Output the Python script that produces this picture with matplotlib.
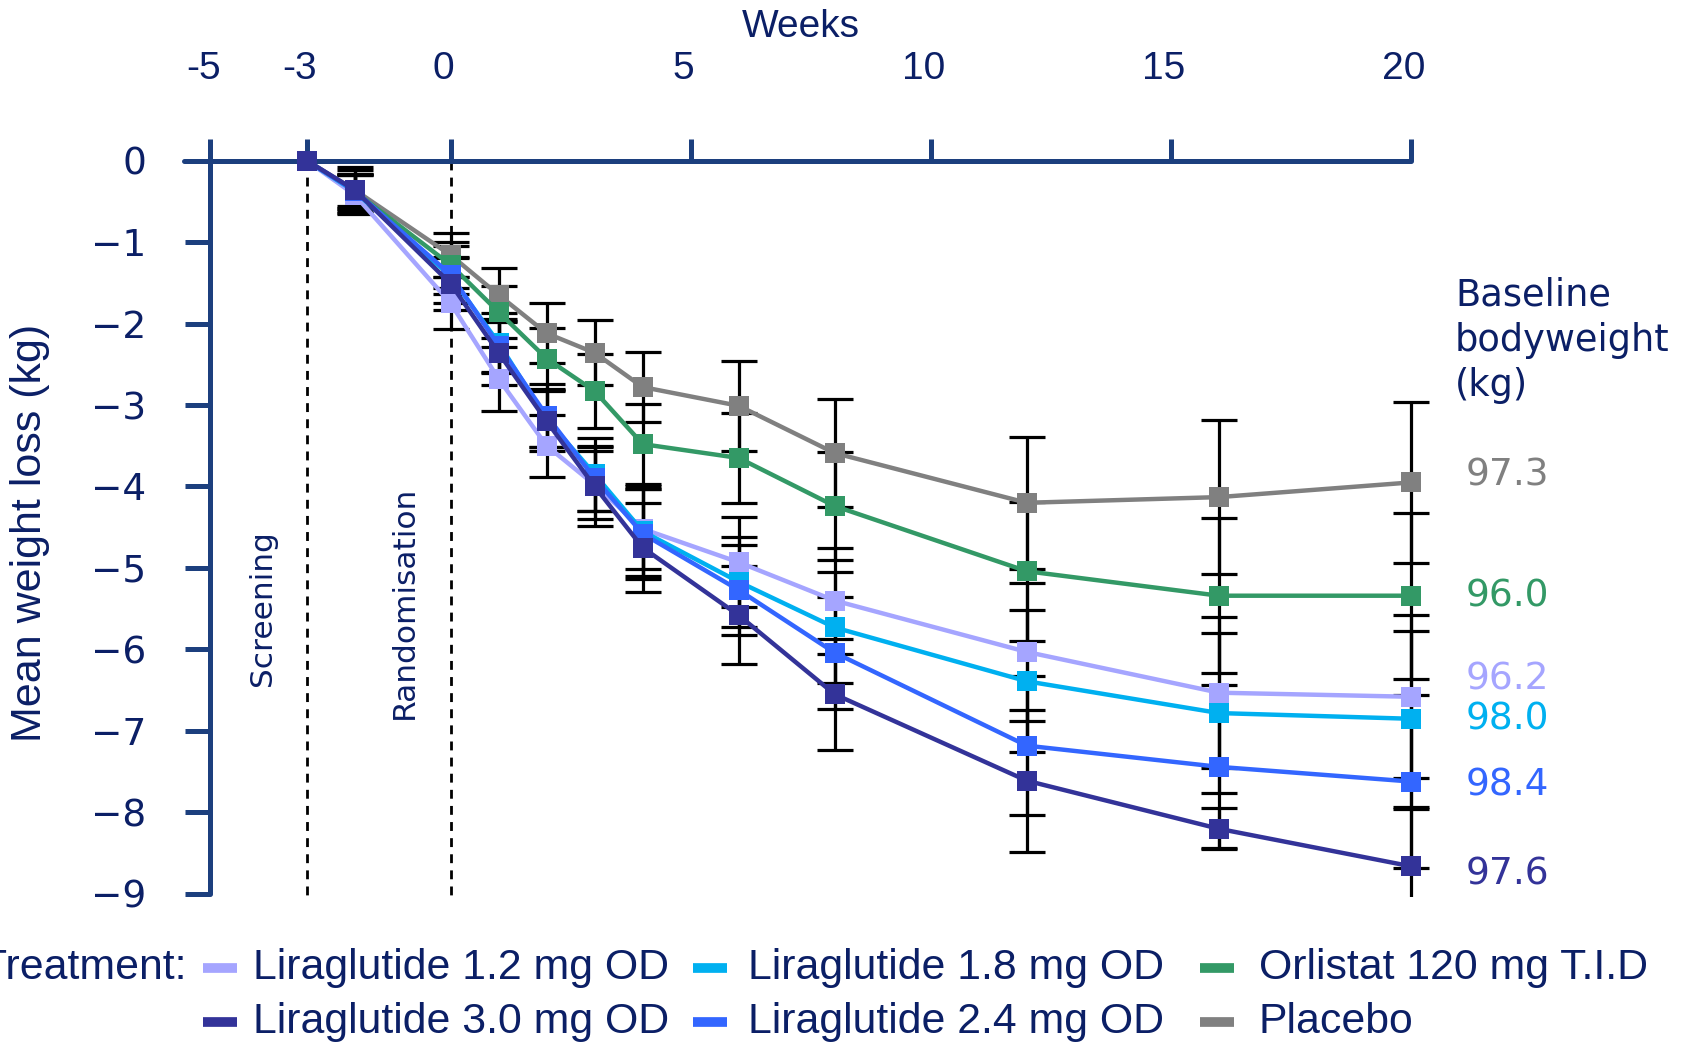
import matplotlib
matplotlib.use("Agg")
import matplotlib.pyplot as plt
from matplotlib.lines import Line2D
import matplotlib.transforms as mtransforms

# ---------------- data ----------------
weeks = [-3, -2, 0, 1, 2, 3, 4, 6, 8, 12, 16, 20]

series_names = ["Placebo", "Orlistat 120 mg T.I.D", "Liraglutide 1.2 mg OD",
                "Liraglutide 1.8 mg OD", "Liraglutide 2.4 mg OD", "Liraglutide 3.0 mg OD"]

placebo  = [0, -0.36, -1.16, -1.65, -2.12, -2.36, -2.78, -3.01, -3.59, -4.20, -4.13, -3.95]
orlistat = [0, -0.38, -1.28, -1.86, -2.43, -2.83, -3.48, -3.65, -4.24, -5.04, -5.34, -5.34]
lira12   = [0, -0.42, -1.75, -2.68, -3.50, -3.98, -4.52, -4.93, -5.40, -6.03, -6.53, -6.58]
lira18   = [0, -0.38, -1.42, -2.24, -3.17, -3.85, -4.55, -5.17, -5.73, -6.39, -6.78, -6.85]
lira24   = [0, -0.37, -1.40, -2.27, -3.13, -3.90, -4.58, -5.27, -6.04, -7.18, -7.44, -7.62]
lira30   = [0, -0.36, -1.51, -2.36, -3.20, -4.00, -4.75, -5.58, -6.55, -7.61, -8.20, -8.66]

placebo_err  = [0, 0.28, 0.27, 0.33, 0.37, 0.40, 0.43, 0.55, 0.66, 0.81, 0.94, 0.99]
orlistat_err = [0, 0.22, 0.28, 0.32, 0.37, 0.45, 0.49, 0.55, 0.66, 0.85, 0.95, 1.02]
lira12_err   = [0, 0.24, 0.32, 0.39, 0.38, 0.42, 0.49, 0.55, 0.65, 0.85, 0.93, 1.00]
lira18_err   = [0, 0.20, 0.22, 0.37, 0.35, 0.45, 0.55, 0.55, 0.68, 0.87, 0.98, 1.08]
lira24_err   = [0, 0.25, 0.35, 0.33, 0.39, 0.40, 0.55, 0.55, 0.69, 0.85, 1.00, 1.06]
lira30_err   = [0, 0.20, 0.32, 0.39, 0.37, 0.49, 0.55, 0.60, 0.68, 0.87, 0.25, 0.70]

baseline_weights = ["97.3", "96.0", "96.2", "98.0", "98.4", "97.6"]

x_ticks = [-5, -3, 0, 5, 10, 15, 20]
x_tick_labels = ["-5", "-3", "0", "5", "10", "15", "20"]
y_ticks = [0, -1, -2, -3, -4, -5, -6, -7, -8, -9]
y_tick_labels = ["0", "\u22121", "\u22122", "\u22123", "\u22124", "\u22125",
                 "\u22126", "\u22127", "\u22128", "\u22129"]

# ---------------- styles ----------------
colors = ["#808080", "#339966", "#A5A5FF", "#00B0F0", "#3366FF", "#333399"]
values = [placebo, orlistat, lira12, lira18, lira24, lira30]
errors = [placebo_err, orlistat_err, lira12_err, lira18_err, lira24_err, lira30_err]
label_y = [-3.87, -5.35, -6.37, -6.86, -7.67, -8.76]   # text placement

axis_col = "#1C3F7E"
text_col = "#0B1F66"
cond = ["Liberation Sans", "DejaVu Sans"]

W, H = 1693, 1042
fig = plt.figure(figsize=(W / 100, H / 100), dpi=100)

def fy(py):
    return 1 - py / H

# axes geometry: x=-5 at px 210.5, x=20 at px 1411 ; y=0 at px 160.5, y=-9 at px 894
pxw = (1411 - 210.5) / 25.0
pxk = (894 - 160.5) / 9.0
ax_l, ax_r = 150, 1450
ax_t, ax_b = 120, 897
ax = fig.add_axes([ax_l / W, 1 - ax_b / H, (ax_r - ax_l) / W, (ax_b - ax_t) / H])
ax.set_xlim(-5 - (210.5 - ax_l) / pxw, 20 + (ax_r - 1411) / pxw)
ax.set_ylim(0 - (ax_b - 160.5) / pxk, 0 + (160.5 - ax_t) / pxk)
ax.patch.set_alpha(0)

# dashed reference lines
for xv in (-3, 0):
    ax.plot([xv, xv], [0, -9.05], ls=(0, (3.2, 2.6)), color="black", lw=2.0, zorder=1)

# error bars
for v, e in zip(values, errors):
    ax.errorbar(weeks[1:], v[1:], yerr=e[1:], fmt="none", ecolor="black",
                elinewidth=2.3, capsize=13, capthick=2.3, zorder=2)

# lines
for name, v, c in zip(series_names, values, colors):
    ax.plot(weeks, v, color=c, lw=3.2, marker="s", markersize=14,
            markeredgewidth=0, label=name, zorder=3)

# spines
for s in ("right", "bottom"):
    ax.spines[s].set_visible(False)
ax.spines["left"].set_position(("data", -5))
ax.spines["left"].set_bounds(-9, 0)
ax.spines["top"].set_position(("data", 0))
ax.spines["top"].set_bounds(-5.55, 20)
for s in ("left", "top"):
    ax.spines[s].set_color(axis_col)
    ax.spines[s].set_linewidth(3.6)
    ax.spines[s].set_capstyle("round")

ax.xaxis.set_ticks_position("top")
ax.set_xticks(x_ticks)
ax.set_xticklabels(x_tick_labels, fontfamily=cond)
ax.tick_params(axis="x", direction="out", length=16, width=3.6, color=axis_col,
               pad=37, labelsize=28, labelcolor=text_col)
off = mtransforms.ScaledTranslation(-7 / 100, 0, fig.dpi_scale_trans)
for lab in ax.get_xticklabels():
    lab.set_transform(lab.get_transform() + off)

ax.set_yticks(y_ticks)
ax.set_yticklabels(y_tick_labels, fontfamily="DejaVu Sans")
ax.tick_params(axis="y", direction="out", length=18, width=3.6, color=axis_col,
               pad=28, labelsize=27, labelcolor=text_col)

# titles / labels
fig.text(801 / W, fy(27), "Weeks", ha="center", va="center", fontsize=28,
         family=cond, color=text_col)
fig.text(30 / W, fy(533), "Mean weight loss (kg)", ha="center", va="center",
         rotation=90, fontsize=31, family=cond, color=text_col)

ax.text(-3.91, -5.49, "Screening", rotation=90, ha="center", va="center",
        fontsize=22.5, family="DejaVu Sans", color=text_col)
ax.text(-0.97, -5.42, "Randomisation", rotation=90, ha="center", va="center",
        fontsize=22.5, family="DejaVu Sans", color=text_col)

bx = (1455 - 210.5) / pxw - 5
ax.text(bx, -(338 - 160.5) / pxk - 0.03, "Baseline\nbodyweight\n(kg)", ha="left",
        va="center", fontsize=26.5, family="DejaVu Sans", color=text_col,
        linespacing=1.28, clip_on=False)
vx = (1466 - 210.5) / pxw - 5
for t, yy, c in zip(baseline_weights, label_y, colors):
    ax.text(vx, yy, t, ha="left", va="center", fontsize=27, family="DejaVu Sans",
            color=c, clip_on=False)

# legend (two rows, three columns), placed item by item
leg_order = [2, 3, 1, 5, 4, 0]
leg_handle_x = [203, 693, 1200]
leg_text_x = [253, 748, 1259]
leg_row_y = [968, 1022]
for k, i in enumerate(leg_order):
    r, cidx = divmod(k, 3)
    yy = fy(leg_row_y[r])
    x0 = leg_handle_x[cidx]
    fig.add_artist(Line2D([x0 / W, (x0 + 34) / W], [yy, yy], color=colors[i], lw=7,
                          solid_capstyle="butt", transform=fig.transFigure))
    fig.text(leg_text_x[cidx] / W, yy, series_names[i], ha="left", va="center",
             fontsize=30.8, family=cond, color=text_col)
fig.text(186 / W, fy(968), "Treatment:", ha="right", va="center", fontsize=30.8,
         family=cond, color=text_col)

fig.savefig("out.png", dpi=100)
